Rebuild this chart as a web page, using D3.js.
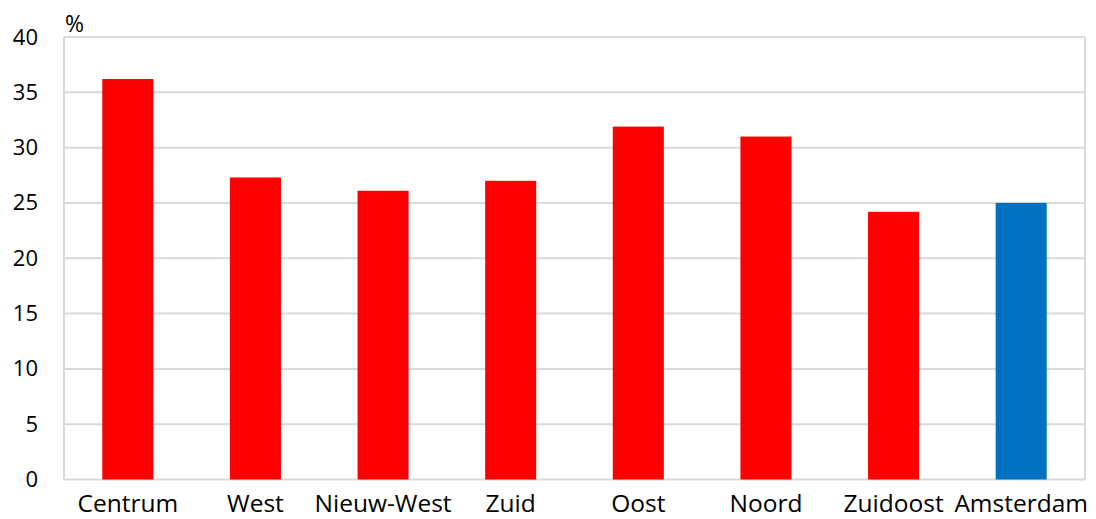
<!DOCTYPE html>
<html>
<head>
<meta charset="utf-8">
<script src="https://cdn.jsdelivr.net/npm/d3@7"></script>
<style>
  body { margin: 0; background: #fff; }
  svg text { font-family: "Open Sans", sans-serif; fill: #000; }
</style>
</head>
<body>
<div class="chart"></div>
<script>
// stadsdelen en waarden (%)
var categories = ["Centrum", "West", "Nieuw-West", "Zuid", "Oost", "Noord", "Zuidoost", "Amsterdam"];
var values = [36.2, 27.3, 26.1, 27.0, 31.9, 31.0, 24.2, 25.0];
var yTicks = [0, 5, 10, 15, 20, 25, 30, 35, 40];

var width = 1096, height = 519;
var margin = {top: 37, right: 11, bottom: 39.5, left: 64};

var svg = d3.select(".chart")
    .append("svg")
    .attr("width", width)
    .attr("height", height);

var x = d3.scaleBand()
    .domain(categories)
    .range([margin.left, width - margin.right])
    .paddingInner(0.6)
    .paddingOuter(0.3);

var y = d3.scaleLinear()
    .domain([0, 40])
    .range([height - margin.bottom, margin.top]);

// gridlines
svg.append("g")
    .selectAll("line")
    .data(yTicks)
    .enter()
    .append("line")
    .attr("x1", margin.left)
    .attr("x2", width - margin.right)
    .attr("y1", function(d) { return y(d); })
    .attr("y2", function(d) { return y(d); })
    .attr("stroke", "#d9d9d9")
    .attr("stroke-width", 2);

// vertical borders
svg.append("line")
    .attr("x1", margin.left).attr("x2", margin.left)
    .attr("y1", y(40)).attr("y2", y(0))
    .attr("stroke", "#d9d9d9").attr("stroke-width", 2);
svg.append("line")
    .attr("x1", width - margin.right).attr("x2", width - margin.right)
    .attr("y1", y(40)).attr("y2", y(0))
    .attr("stroke", "#d9d9d9").attr("stroke-width", 2);

// bars
svg.append("g")
    .selectAll("rect")
    .data(values)
    .enter()
    .append("rect")
    .attr("x", function(d, i) { return x(categories[i]); })
    .attr("width", x.bandwidth())
    .attr("y", function(d) { return y(d); })
    .attr("height", function(d) { return y(0) - y(d); })
    .attr("fill", function(d, i) { return categories[i] == "Amsterdam" ? "#0070c0" : "#ff0000"; });

// y axis labels
var yAxis = d3.axisLeft(y).tickValues(yTicks).tickSize(0).tickPadding(0);
var gy = svg.append("g")
    .attr("transform", "translate(38,0)")
    .call(yAxis);
gy.select(".domain").remove();
gy.selectAll("text")
    .attr("font-size", 22)
    .attr("font-family", "'Open Sans', sans-serif")
    .attr("fill", "#000");

// x axis labels
var xAxis = d3.axisBottom(x).tickSize(0).tickPadding(0);
var gx = svg.append("g")
    .attr("transform", "translate(0," + y(0) + ")")
    .call(xAxis);
gx.select(".domain").remove();
gx.selectAll("text")
    .attr("dy", null)
    .attr("y", 32.5)
    .attr("font-size", 24.5)
    .attr("font-family", "'Open Sans', sans-serif")
    .attr("fill", "#000");

// unit
svg.append("text")
    .attr("x", 65)
    .attr("y", 32)
    .attr("font-size", 23)
    .text("%");
</script>
</body>
</html>
